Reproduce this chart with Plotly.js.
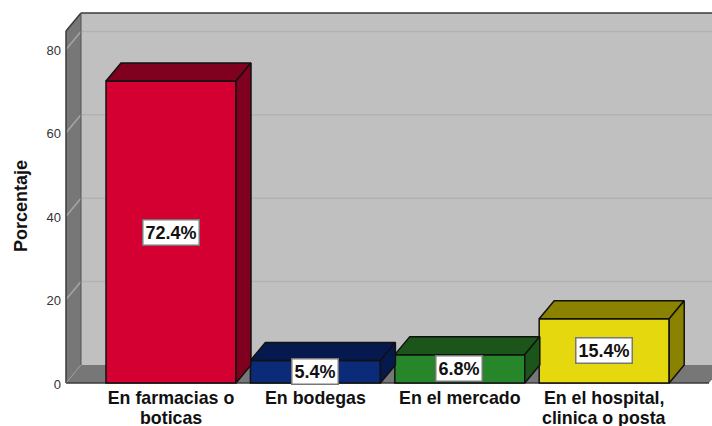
<!DOCTYPE html>
<html>
<head>
<meta charset="utf-8">
<script src="https://cdn.plot.ly/plotly-3.0.1.min.js"></script>
<style>html,body{margin:0;padding:0;background:#fff;overflow:hidden}#c{width:712px;height:426px}</style>
</head>
<body>
<div id="c"></div>
<script>
const categories = ["En farmacias o", "En bodegas", "En el mercado", "En el hospital,"];
const categoriesLine2 = ["boticas", "", "", "clinica o posta"];
const values = [72.4, 5.4, 6.8, 15.4];
const labels = ["72.4%", "5.4%", "6.8%", "15.4%"];
const yTicks = [0, 20, 40, 60, 80];
const frontColors = ["#d50032", "#0b2a78", "#27852a", "#e6d80e"];
const sideColors = ["#80001f", "#06194f", "#1b5519", "#8b8200"];

// geometry in axis units
const pxX = 144.4, pxY = 4.17;
const depthX = 15 / pxX, depthY = 18 / pxY;
const barW = 130 / pxX;
const xLeft = (66 - 171) / pxX, xRight = (709 - 171) / pxX, yTop = (383 - 31) / pxY;

const poly = pts => "M" + pts.map(p => p[0] + "," + p[1]).join("L") + "Z";
const wall = (pts, fill) => ({type: "path", xref: "x", yref: "y", layer: "below", path: poly(pts), fillcolor: fill, line: {width: 0}});
const seg = (x0, y0, x1, y1, color, w) => ({type: "line", xref: "x", yref: "y", layer: "below", x0, y0, x1, y1, line: {color, width: w}});

const shapes = [
  wall([[xLeft+depthX,depthY],[xRight+depthX,depthY],[xRight+depthX,yTop+depthY],[xLeft+depthX,yTop+depthY]], "#c0c0c0"),
  wall([[xLeft,0],[xLeft+depthX,depthY],[xLeft+depthX,yTop+depthY],[xLeft,yTop]], "#777777"),
  wall([[xLeft,0],[xRight,0],[xRight+depthX,depthY],[xLeft+depthX,depthY]], "#777777")
];
yTicks.filter(v => v > 0).forEach(v => {
  shapes.push(seg(xLeft+depthX, v+depthY, xRight+depthX, v+depthY, "#b2b2b2", 1.5));
  shapes.push(seg(xLeft, v, xLeft+depthX, v+depthY, "#a6a6a6", 1.5));
});
shapes.push(seg(xLeft, 0, xLeft, yTop, "#3a3a3a", 1.5));
shapes.push(seg(xLeft, yTop, xLeft+depthX, yTop+depthY, "#3a3a3a", 1.5));
shapes.push(seg(xLeft+depthX, yTop+depthY, xRight+depthX, yTop+depthY, "#3a3a3a", 1.5));
shapes.push(seg(xLeft+depthX, depthY, xLeft+depthX, yTop+depthY, "#555555", 1));
shapes.push(seg(xLeft, 0, xLeft+depthX, depthY, "#9a9a9a", 1));
shapes.push(seg(xLeft, 0, xRight, 0, "#3a3a3a", 1.5));

const xs = values.map((_, i) => i);
const traces = [{
  type: "bar", x: xs, y: values, width: barW,
  marker: {color: frontColors, line: {color: "#111", width: 1.5}},
  hoverinfo: "skip"
}];
values.forEach((v, i) => {
  const l = i - barW/2, r = i + barW/2;
  const top = [[l,v],[l+depthX,v+depthY],[r+depthX,v+depthY],[r,v],[l,v]];
  const side = [[r,0],[r+depthX,depthY],[r+depthX,v+depthY],[r,v],[r,0]];
  [top, side].forEach(f => traces.push({
    type: "scatter", mode: "lines", x: f.map(p => p[0]), y: f.map(p => p[1]),
    fill: "toself", fillcolor: sideColors[i], line: {color: "#111", width: 1.5},
    hoverinfo: "skip", showlegend: false
  }));
});

const annotations = values.map((v, i) => ({
  x: i - 0.003, y: v/2, xref: "x", yref: "y", text: "<b>" + labels[i] + "</b>", showarrow: false,
  font: {family: "Liberation Sans, Arial", size: 18, color: "#111"},
  bgcolor: "#fff", bordercolor: "#777", borderwidth: 1.5, borderpad: 2
}));
categoriesLine2.forEach((t, i) => {
  if (t) annotations.push({
    x: i, y: 0, xref: "x", yref: "paper", yanchor: "middle", yshift: -33, text: "<b>" + t + "</b>", showarrow: false,
    font: {family: "Liberation Sans, Arial", size: 17.8, color: "#111"}
  });
});
annotations.push({
  x: (21 - 64) / 648, y: (385 - 206) / 373, xref: "paper", yref: "paper", xanchor: "center", yanchor: "middle",
  text: "<b>Porcentaje</b>", textangle: -90, showarrow: false,
  font: {family: "Liberation Sans, Arial", size: 18, color: "#111"}
});

Plotly.newPlot("c", traces, {
  width: 712, height: 426,
  margin: {l: 64, r: 0, t: 12, b: 41, pad: 0},
  paper_bgcolor: "#fff", plot_bgcolor: "#fff",
  showlegend: false, bargap: 0,
  font: {family: "Liberation Sans, Arial", color: "#222"},
  xaxis: {
    range: [(64 - 171)/pxX, (712 - 171)/pxX], tickmode: "array", tickvals: xs, ticktext: categories,
    tickfont: {size: 17.8, color: "#111", weight: "bold"}, showgrid: false, zeroline: false, showline: false,
    ticks: "", ticklen: 0
  },
  yaxis: {
    range: [-2/pxY, 371/pxY], tickmode: "array", tickvals: yTicks, showgrid: false, zeroline: false, showline: false,
    tickfont: {size: 13, color: "#333"}, ticks: "", ticklen: 0, ticklabelshift: 1, ticklabelstandoff: 2
  },
  shapes, annotations
}, {staticPlot: true, displayModeBar: false});
</script>
</body>
</html>
